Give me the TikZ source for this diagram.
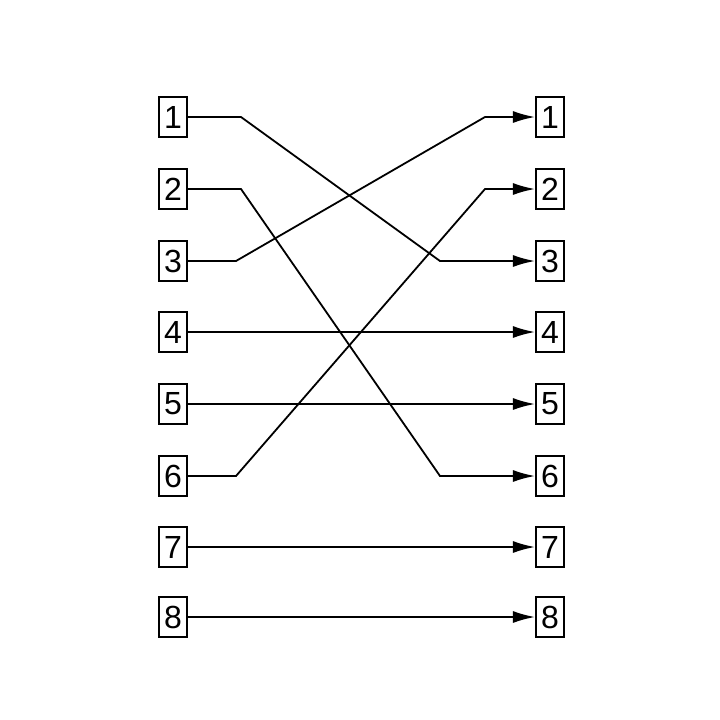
\documentclass[tikz,border=0pt]{standalone}
\usepackage{fontspec}
\setmainfont{Liberation Sans}
\usetikzlibrary{calc,arrows.meta}

\begin{document}
\begin{tikzpicture}[x=0.5pt, y=-0.5pt,
  port/.style={draw, line width=1pt, minimum width=14pt, minimum height=20pt, inner sep=0.5pt, font=\fontsize{16}{16}\selectfont},
  wire/.style={line width=0.9pt, -{Latex[length=11pt,width=6pt]}}]

\useasboundingbox (0,0) rectangle (720,720);

% left and right columns
\foreach \i/\y in {1/117,2/189,3/261,4/332,5/404,6/476,7/547,8/617} {
  \node[port] (l\i) at (173,\y) {\i};
  \node[port] (r\i) at (550,\y) {\i};
}

% crossing wires
\draw[wire] (l1.east) -- ++(53,0) -- ($(r3.west)+(-95,0)$) -- (r3.west);
\draw[wire] (l2.east) -- ++(53,0) -- ($(r6.west)+(-95,0)$) -- (r6.west);
\draw[wire] (l3.east) -- ++(48,0) -- ($(r1.west)+(-50,0)$) -- (r1.west);
\draw[wire] (l6.east) -- ++(48,0) -- ($(r2.west)+(-50,0)$) -- (r2.west);

% straight wires
\foreach \i in {4,5,7,8}
  \draw[wire] (l\i.east) -- (r\i.west);

\end{tikzpicture}
\end{document}
